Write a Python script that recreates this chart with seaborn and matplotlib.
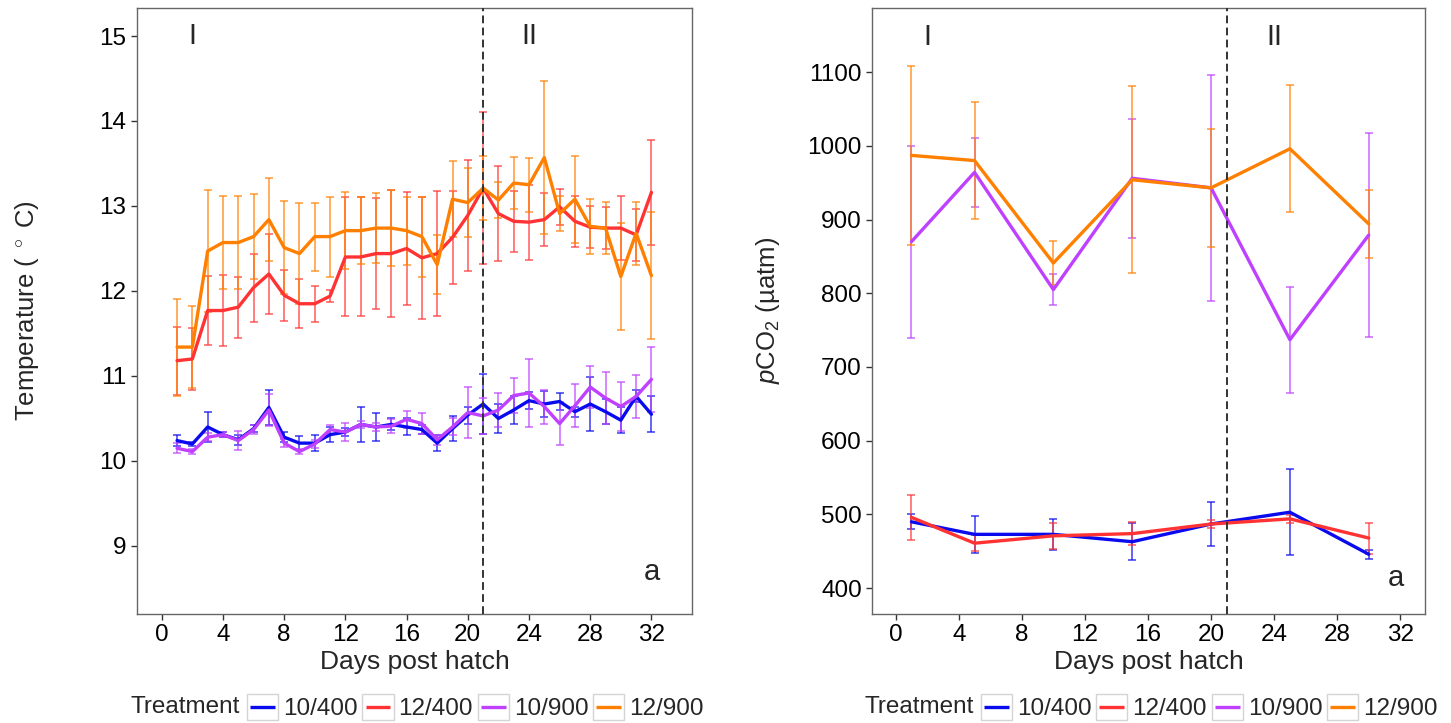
import numpy as np
import pandas as pd
import matplotlib
matplotlib.use("Agg")
import matplotlib.pyplot as plt
import seaborn as sns
from matplotlib.lines import Line2D
from matplotlib.patches import Rectangle
from matplotlib.legend_handler import HandlerBase

sns.set_style("white")
plt.rcParams["font.family"] = ["Liberation Sans", "DejaVu Sans"]
plt.rcParams["mathtext.fontset"] = "custom"
plt.rcParams["mathtext.rm"] = "Liberation Sans"
plt.rcParams["mathtext.it"] = "Liberation Sans:italic"

treatments = ["10/400", "12/400", "10/900", "12/900"]
colors = {"10/400": "#0a0aee", "12/400": "#ff3333", "10/900": "#bf40ff", "12/900": "#ff8000"}

# panel 1: temperature, days 1-32
temp_days = list(range(1, 33))
temp_mean = {
    "10/400": [10.24, 10.20, 10.40, 10.31, 10.25, 10.38, 10.63, 10.28, 10.21, 10.21, 10.31, 10.34,
               10.43, 10.40, 10.43, 10.40, 10.37, 10.21, 10.38, 10.54, 10.67, 10.50, 10.60, 10.71,
               10.67, 10.70, 10.58, 10.67, 10.58, 10.48, 10.76, 10.55],
    "12/400": [11.18, 11.20, 11.77, 11.77, 11.81, 12.04, 12.20, 11.95, 11.85, 11.85, 11.94, 12.40,
               12.40, 12.44, 12.44, 12.50, 12.39, 12.44, 12.63, 12.89, 13.21, 12.91, 12.82, 12.81,
               12.84, 12.99, 12.82, 12.75, 12.74, 12.74, 12.66, 13.16],
    "10/900": [10.15, 10.11, 10.28, 10.31, 10.24, 10.37, 10.60, 10.21, 10.11, 10.20, 10.37, 10.34,
               10.43, 10.40, 10.41, 10.49, 10.44, 10.25, 10.40, 10.57, 10.53, 10.60, 10.77, 10.80,
               10.64, 10.44, 10.65, 10.87, 10.74, 10.64, 10.76, 10.96],
    "12/900": [11.34, 11.34, 12.47, 12.57, 12.57, 12.64, 12.84, 12.51, 12.44, 12.64, 12.64, 12.71,
               12.71, 12.74, 12.74, 12.71, 12.64, 12.31, 13.08, 13.04, 13.21, 13.07, 13.27, 13.25,
               13.57, 12.91, 13.08, 12.76, 12.74, 12.17, 12.68, 12.18],
}
temp_se = {
    "10/400": [0.06, 0.02, 0.18, 0.03, 0.06, 0.04, 0.21, 0.06, 0.08, 0.09, 0.09, 0.05,
               0.21, 0.17, 0.07, 0.10, 0.05, 0.09, 0.15, 0.10, 0.35, 0.17, 0.17, 0.10,
               0.15, 0.10, 0.06, 0.32, 0.15, 0.15, 0.07, 0.21],
    "12/400": [0.40, 0.36, 0.41, 0.42, 0.36, 0.40, 0.47, 0.30, 0.29, 0.21, 0.07, 0.70,
               0.70, 0.65, 0.75, 0.66, 0.72, 0.74, 0.55, 0.65, 0.89, 0.56, 0.36, 0.44,
               0.31, 0.21, 0.30, 0.25, 0.25, 0.38, 0.31, 0.62],
    "10/900": [0.06, 0.03, 0.05, 0.03, 0.11, 0.05, 0.19, 0.05, 0.03, 0.05, 0.05, 0.11,
               0.04, 0.05, 0.08, 0.10, 0.12, 0.06, 0.10, 0.30, 0.21, 0.20, 0.21, 0.40,
               0.20, 0.25, 0.25, 0.25, 0.31, 0.29, 0.25, 0.38],
    "12/900": [0.57, 0.48, 0.72, 0.55, 0.55, 0.50, 0.49, 0.55, 0.59, 0.40, 0.47, 0.45,
               0.39, 0.41, 0.45, 0.40, 0.47, 0.35, 0.45, 0.41, 0.38, 0.21, 0.31, 0.32,
               0.90, 0.21, 0.51, 0.32, 0.31, 0.63, 0.37, 0.75],
}

# panel 2: pCO2
co2_days = [1, 5, 10, 15, 20, 25, 30]
co2_mean = {
    "10/400": [490, 473, 473, 463, 487, 503, 446],
    "12/400": [496, 461, 471, 474, 487, 494, 468],
    "10/900": [870, 964, 805, 956, 943, 737, 879],
    "12/900": [987, 980, 841, 954, 943, 996, 894],
}
co2_se = {
    "10/400": [10, 25, 21, 25, 30, 58, 6],
    "12/400": [31, 11, 18, 16, 6, 5, 21],
    "10/900": [130, 47, 21, 81, 153, 72, 138],
    "12/900": [121, 79, 30, 127, 80, 86, 46],
}


def long_df(days, means, ses):
    rows = []
    for t in treatments:
        for d, m, s in zip(days, means[t], ses[t]):
            rows.append({"Day": d, "value": m, "se": s, "Treatment": t})
    return pd.DataFrame(rows)


class KeyBox(HandlerBase):
    def create_artists(self, legend, orig_handle, xdescent, ydescent, width, height, fontsize, trans):
        box = Rectangle((-xdescent, -ydescent), width, height, facecolor="white",
                        edgecolor="#d4d4d4", lw=1.0, transform=trans)
        y = -ydescent + height / 2
        line = Line2D([-xdescent + 0.1 * width, -xdescent + 0.9 * width], [y, y],
                      color=orig_handle.get_color(), lw=orig_handle.get_linewidth(),
                      solid_capstyle="butt", transform=trans)
        return [box, line]


def draw_panel(ax, df, capsize):
    for t in treatments:
        sub = df[df["Treatment"] == t]
        ax.errorbar(sub["Day"], sub["value"], yerr=sub["se"], fmt="none", ecolor=colors[t],
                    elinewidth=1.1, capsize=capsize, capthick=1.1, alpha=0.8, zorder=1)
    sns.lineplot(data=df, x="Day", y="value", hue="Treatment", hue_order=treatments,
                 palette=colors, lw=2.4, errorbar=None, legend=False, ax=ax, zorder=3)
    ax.axvline(21, color="#333333", lw=1.4, linestyle=(0, (4, 2.2)), zorder=4)
    ax.set_xticks(range(0, 33, 4))
    ax.tick_params(bottom=True, left=True, direction="out", length=4.5, width=1,
                   color="#333333", labelsize=17.5, labelcolor="black", pad=3)
    for sp in ax.spines.values():
        sp.set_visible(True)
        sp.set_color("#666666")
        sp.set_linewidth(1.0)
    ax.set_xlabel("Days post hatch", fontsize=19)
    ax.xaxis.set_label_coords(0.5, -0.06)


fig = plt.figure(figsize=(14.51, 7.23), dpi=100)
ax1 = fig.add_axes([0.0944, 0.1508, 0.3825, 0.8382])
ax2 = fig.add_axes([0.6012, 0.1508, 0.3807, 0.8382])

draw_panel(ax1, long_df(temp_days, temp_mean, temp_se), 3.2)
ax1.set_xlim(-1.62, 34.65)
ax1.set_ylim(8.2, 15.33)
ax1.set_yticks(range(9, 16))
ax1.set_ylabel(r"Temperature ( $^\circ$ C)", fontsize=18.5)
ax1.yaxis.set_label_coords(-0.173, 0.5)
ax1.text(2, 15.0, "I", fontsize=21, ha="center", va="center")
ax1.text(24, 15.0, "II", fontsize=21, ha="center", va="center")
ax1.text(32, 8.69, "a", fontsize=21, ha="center", va="center")

draw_panel(ax2, long_df(co2_days, co2_mean, co2_se), 2.6)
ax2.set_xlim(-1.48, 33.55)
ax2.set_ylim(365, 1187)
ax2.set_yticks(range(400, 1101, 100))
ax2.set_ylabel(r"$p$CO$_2$ (µatm)", fontsize=18.5)
ax2.yaxis.set_label_coords(-0.163, 0.5)
ax2.text(2, 1148, "I", fontsize=21, ha="center", va="center")
ax2.text(24, 1148, "II", fontsize=21, ha="center", va="center")
ax2.text(31.7, 414, "a", fontsize=21, ha="center", va="center")

handles = [Line2D([], [], color=colors[t], lw=2.4) for t in treatments]
for x_leg, x_title in [(0.1702, 0.1654), (0.676, 0.6713)]:
    fig.legend(handles, treatments, loc="center left", bbox_to_anchor=(x_leg, 0.022),
               ncol=4, frameon=False, fontsize=17.5, handlelength=1.28, handleheight=1.28,
               handletextpad=0.2, columnspacing=0.2, borderpad=0, borderaxespad=0,
               handler_map={Line2D: KeyBox()})
    fig.text(x_title, 0.022, "Treatment", fontsize=17.5, ha="right", va="center")

fig.savefig("out.png", dpi=100)
